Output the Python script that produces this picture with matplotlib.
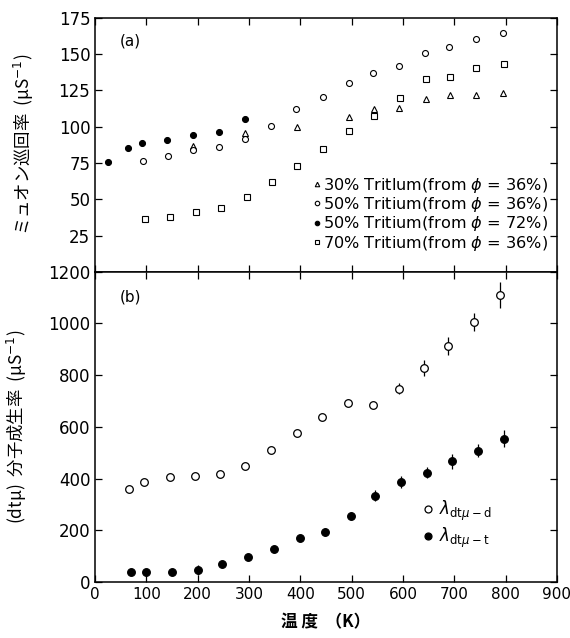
import matplotlib
matplotlib.use("Agg")
import matplotlib.pyplot as plt
from matplotlib.lines import Line2D

plt.rcParams['font.family'] = ['DejaVu Sans', 'Noto Sans CJK JP']
plt.rcParams['mathtext.fontset'] = 'dejavusans'

# ---- panel (a): muon cycling rate ----
t30 = [191, 292, 393, 494, 543, 593, 644, 692, 743, 795]
r30 = [86.8, 95.6, 99.7, 107.0, 112.1, 112.8, 119.2, 121.5, 122.0, 123.5]

t50a = [93, 142, 191, 241, 292, 342, 392, 444, 494, 541, 592, 643, 689, 743, 795]
r50a = [76.5, 80.1, 84.1, 86.3, 91.5, 100.6, 112.1, 120.8, 130.0, 137.3, 141.9, 150.7, 155.2, 160.3, 164.9]

t50b = [24, 64, 92, 140, 191, 241, 292]
r50b = [75.6, 85.2, 88.7, 91.0, 94.4, 96.2, 105.4]

t70 = [98, 146, 196, 245, 295, 344, 393, 445, 494, 543, 594, 644, 692, 743, 796]
r70 = [36.3, 38.1, 41.1, 44.3, 51.2, 62.2, 73.2, 84.7, 97.1, 107.5, 119.7, 132.8, 134.1, 140.3, 143.1]

labels_a = ["30% Tritlum(from $\\phi$ = 36%)",
            "50% Tritium(from $\\phi$ = 36%)",
            "50% Tritium(from $\\phi$ = 72%)",
            "70% Tritium(from $\\phi$ = 36%)"]

# ---- panel (b): dt-mu molecular formation rate ----
tb_d = [66, 95, 145, 194, 243, 292, 343, 393, 443, 492, 542, 592, 641, 687, 739, 790]
lam_d = [361, 387, 406, 410, 417, 448, 510, 575, 639, 694, 685, 748, 828, 912, 1004, 1110]
err_d = [8, 8, 8, 8, 8, 8, 8, 10, 10, 12, 12, 20, 30, 35, 35, 52]

tb_t = [70, 100, 150, 200, 248, 298, 348, 399, 448, 499, 546, 596, 647, 695, 746, 796]
lam_t = [39, 39, 39, 45, 68, 97, 129, 169, 192, 255, 334, 387, 423, 466, 508, 554]
err_t = [8, 8, 8, 20, 8, 8, 8, 8, 15, 15, 22, 22, 22, 28, 26, 32]

labels_b = ["$\\lambda_{\\mathrm{dt}\\mu-\\mathrm{d}}$", "$\\lambda_{\\mathrm{dt}\\mu-\\mathrm{t}}$"]

xticks = [0, 100, 200, 300, 400, 500, 600, 700, 800, 900]
yticks_a = [25, 50, 75, 100, 125, 150, 175]
yticks_b = [0, 200, 400, 600, 800, 1000, 1200]

fig = plt.figure(figsize=(5.7, 6.38), dpi=100)
axa = fig.add_axes([0.167, 0.574, 0.810, 0.398])
axb = fig.add_axes([0.167, 0.088, 0.810, 0.486])

k = 'black'
ms = 4.3
axa.plot(t30, r30, ls='none', marker='^', ms=ms, mfc='white', mec=k, mew=0.8, label=labels_a[0])
axa.plot(t50a, r50a, ls='none', marker='o', ms=ms, mfc='white', mec=k, mew=0.8, label=labels_a[1])
axa.plot(t50b, r50b, ls='none', marker='o', ms=ms, mfc=k, mec=k, mew=0.8, label=labels_a[2])
axa.plot(t70, r70, ls='none', marker='s', ms=ms, mfc='white', mec=k, mew=0.8, label=labels_a[3])

axa.set_xlim(0, 900)
axa.set_ylim(0, 175)
axa.set_yticks(yticks_a)
axa.set_xticks(xticks)
axa.tick_params(axis='x', labelbottom=False)
axa.text(0.054, 0.89, "(a)", transform=axa.transAxes, fontsize=11)
axa.legend(loc='lower right', bbox_to_anchor=(0.995, 0.05), frameon=False,
           handlelength=0.4, handletextpad=0.2, labelspacing=0.02, borderaxespad=0.0,
           markerscale=0.75, prop={'size': 11.6})
axa.set_ylabel("ミュオン巡回率  (μS$^{-1}$)", fontsize=12.5,
               family=['Noto Sans CJK JP', 'DejaVu Sans'], labelpad=16)

msb = 5.5
axb.errorbar(tb_d, lam_d, yerr=err_d, ls='none', marker='o', ms=msb, mfc='white', mec=k,
             mew=0.9, ecolor=k, elinewidth=0.9, capsize=0, label=labels_b[0])
axb.errorbar(tb_t, lam_t, yerr=err_t, ls='none', marker='o', ms=msb, mfc=k, mec=k,
             mew=0.9, ecolor=k, elinewidth=0.9, capsize=0, label=labels_b[1])
axb.set_xlim(0, 900)
axb.set_ylim(0, 1200)
axb.set_xticks(xticks)
axb.set_yticks(yticks_b)
axb.text(0.054, 0.905, "(b)", transform=axb.transAxes, fontsize=11)
hb = [Line2D([], [], ls='none', marker='o', ms=5, mfc='white', mec=k, mew=0.9),
      Line2D([], [], ls='none', marker='o', ms=5, mfc=k, mec=k, mew=0.9)]
axb.legend(hb, labels_b, loc='lower left', bbox_to_anchor=(0.677, 0.055), frameon=False,
           fontsize=12, handlelength=0.6, handletextpad=0.4, labelspacing=0.15)
axb.set_ylabel("(dtμ)  分子成生率  (μS$^{-1}$)", fontsize=12.5,
               family=['Noto Sans CJK JP', 'DejaVu Sans'], labelpad=14)
axb.set_xlabel("温 度  （K）", fontsize=12, fontweight='bold',
               family=['Noto Sans CJK JP', 'DejaVu Sans'], labelpad=8)

for ax in (axa, axb):
    ax.tick_params(direction='in', top=True, right=True, length=5, width=0.9, labelsize=12)
    for s in ax.spines.values():
        s.set_linewidth(1.1)
axb.tick_params(axis='x', labelsize=11)

fig.savefig("out.png", dpi=100)
